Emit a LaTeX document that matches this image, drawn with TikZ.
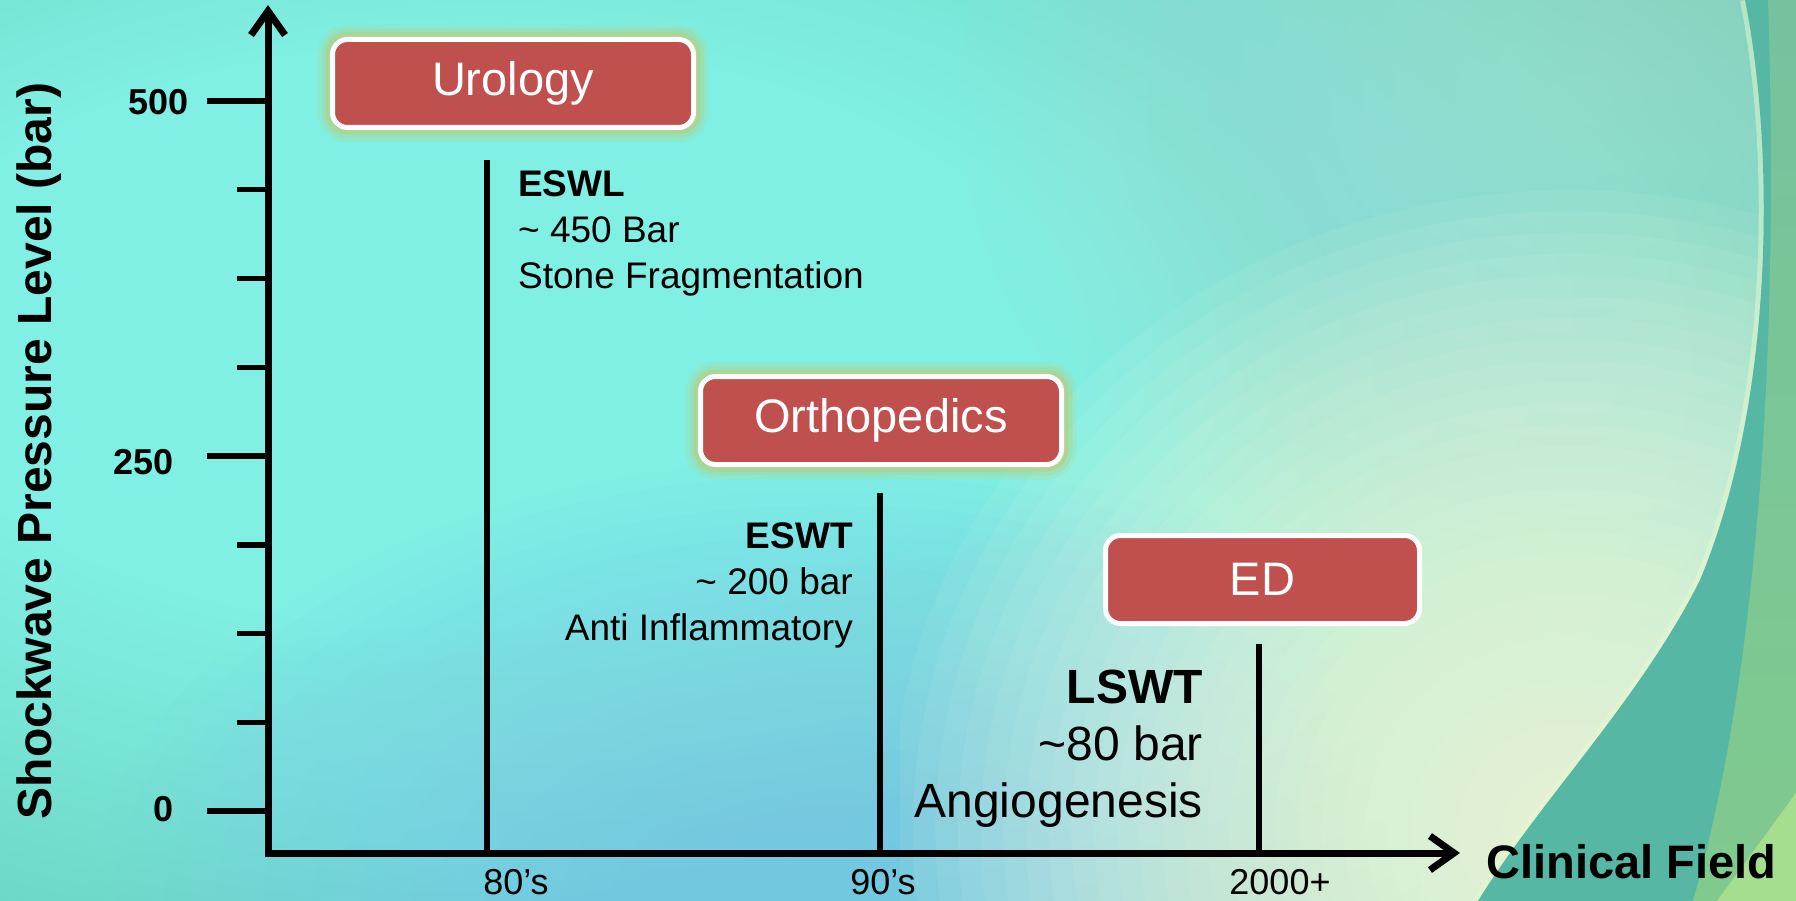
\documentclass[tikz,border=0pt]{standalone}
\usepackage{fontspec}
\setmainfont{Liberation Sans}
\usetikzlibrary{arrows.meta}

\definecolor{tealA}{RGB}{88,186,160}
\definecolor{tealB}{RGB}{86,184,164}
\definecolor{cyanA}{RGB}{128,240,228}
\definecolor{blueA}{RGB}{122,200,246}
\definecolor{paleA}{RGB}{253,254,226}
\definecolor{grayC}{RGB}{172,220,210}
\definecolor{rimA}{RGB}{232,248,205}
\definecolor{greenA}{RGB}{165,222,142}
\definecolor{greenB}{RGB}{118,194,158}
\definecolor{greenC}{RGB}{128,202,142}
\definecolor{boxRed}{RGB}{192,80,77}
\definecolor{glowA}{RGB}{192,202,112}

\pgfdeclareradialshading{bgshade}{\pgfpoint{-15bp}{8bp}}{color(0bp)=(cyanA); color(16bp)=(cyanA); color(56bp)=(tealA); color(80bp)=(tealA)}

\tikzset{
  field/.style={rectangle, rounded corners=15pt, fill=boxRed, draw=white, line width=5pt,
    text=white, font=\fontsize{47}{56}\selectfont, minimum height=88pt, inner sep=0pt},
  glowing/.style={preaction={draw=glowA, line width=30pt, opacity=0.15},
    preaction={draw=glowA, line width=22pt, opacity=0.25},
    preaction={draw=glowA, line width=14pt, opacity=0.45}},
  bodytxt/.style={font=\fontsize{37}{46}\selectfont, inner sep=0pt, text=black},
  bigtxt/.style={font=\fontsize{48}{57}\selectfont, inner sep=0pt, text=black},
  ticklab/.style={font=\bfseries\fontsize{36}{40}\selectfont, inner sep=0pt},
  xlab/.style={font=\fontsize{36}{40}\selectfont, inner sep=0pt},
  axlab/.style={font=\bfseries\fontsize{47}{52}\selectfont, inner sep=0pt},
  ylab/.style={font=\bfseries\fontsize{48}{52}\selectfont, inner sep=0pt},
  axisline/.style={line width=7pt, line join=miter, black},
  tickline/.style={line width=5.5pt, black},
  barline/.style={line width=6pt, black},
  barb/.tip={Straight Barb[length=24pt, width=34pt]}
}

\begin{document}
\begin{tikzpicture}[x=1pt, y=-1pt]
\useasboundingbox (0,0) rectangle (1796,901);
% background
\begin{scope}
  \clip (0,0) rectangle (1796,901);
  \shade[shading=bgshade] (0,0) rectangle (1796,901);
  % soft light-blue glow at the bottom
  \foreach \i in {0,...,29}
    \fill[blueA, opacity=0.042] (830,910) ellipse ({740*(1-\i/30)} and {450*(1-\i/30)});
  % large pale ellipse on the right
  \begin{scope}
    \clip (1745,0) .. controls (1775,150) and (1775,400) .. (1700,580)
      .. controls (1640,700) and (1540,800) .. (1478,901) -- (900,901) -- (900,0) -- cycle;
    \foreach \i in {0,...,19}
      \fill[grayC, opacity=0.05] (1580,100) ellipse ({620*(1-\i/20)} and {520*(1-\i/20)});
    \foreach \i in {0,...,29}
      \fill[paleA, opacity=0.068] (1570,830) ellipse ({680*(1-\i/30)} and {640*(1-\i/30)});
  \end{scope}
  \draw[rimA, line width=10pt, opacity=0.5]
    (1745,0) .. controls (1775,150) and (1775,400) .. (1700,580)
    .. controls (1640,700) and (1540,800) .. (1478,901);
  % teal band outside the ellipse
  \fill[tealB] (1745,0) .. controls (1775,150) and (1775,400) .. (1700,580)
    .. controls (1640,700) and (1540,800) .. (1478,901) -- (1796,901) -- (1796,0) -- cycle;
  % green region at the far right
  \shade[top color=greenB, bottom color=greenC]
    (1768,0) .. controls (1778,300) and (1765,650) .. (1693,901) -- (1796,901) -- (1796,0) -- cycle;
  \fill[greenA] (1717,901) -- (1796,793) -- (1796,901) -- cycle;
\end{scope}

% axes
\coordinate (origin) at (268,853);
\coordinate (ytip) at (268,5);
\coordinate (xtip) at (1460,853);
\draw[axisline, barb-barb] (ytip) -- (origin) -- (xtip);

% ticks
\foreach \yy/\xs in {101/207, 189.75/237, 278.5/237, 367.25/237, 456/207, 544.75/237, 633.5/237, 722.25/237, 811/207}
  \draw[tickline] (\xs,\yy) -- (268,\yy);

\node[ticklab, anchor=east] (t500) at (189,102) {500};
\node[ticklab, anchor=east] (t250) at (174,462) {250};
\node[ticklab, anchor=east] (t0) at (174,809) {0};

\node[ylab, rotate=90, anchor=base] (ylabel) at (51,451) {Shockwave Pressure Level (bar)};
\node[axlab, anchor=west] (xlabel) at (1486,862) {Clinical Field};

% bars
\coordinate (b80) at (487,853);   \coordinate (b80t) at (487,160);
\coordinate (b90) at (880,853);   \coordinate (b90t) at (880,493);
\coordinate (b00) at (1259,853);  \coordinate (b00t) at (1259,644);
\draw[barline] (b80) -- (b80t);
\draw[barline] (b90) -- (b90t);
\draw[barline] (b00) -- (b00t);

\node[xlab] (l80) at (516,882) {80’s};
\node[xlab] (l90) at (883,882) {90’s};
\node[xlab] (l00) at (1280,882) {2000+};

% field boxes
\node[field, glowing, minimum width=361pt] (uro) at (513,83.5) {Urology};
\node[field, glowing, minimum width=361pt] (ortho) at (881,420.5) {Orthopedics};
\node[field, minimum width=314pt] (ed) at (1262.5,579.5) {ED};

% descriptions
\node[bodytxt, anchor=north west, align=left] (eswl) at (518,170)
  {\textbf{ESWL}\\\textasciitilde{} 450 Bar\\Stone Fragmentation};
\node[bodytxt, anchor=north east, align=right] (eswt) at (853,522)
  {\textbf{ESWT}\\\textasciitilde{} 200 bar\\Anti Inflammatory};
\node[bigtxt, anchor=north east, align=right] (lswt) at (1203,670)
  {\textbf{LSWT}\\\textasciitilde80 bar\\Angiogenesis};
\end{tikzpicture}
\end{document}
